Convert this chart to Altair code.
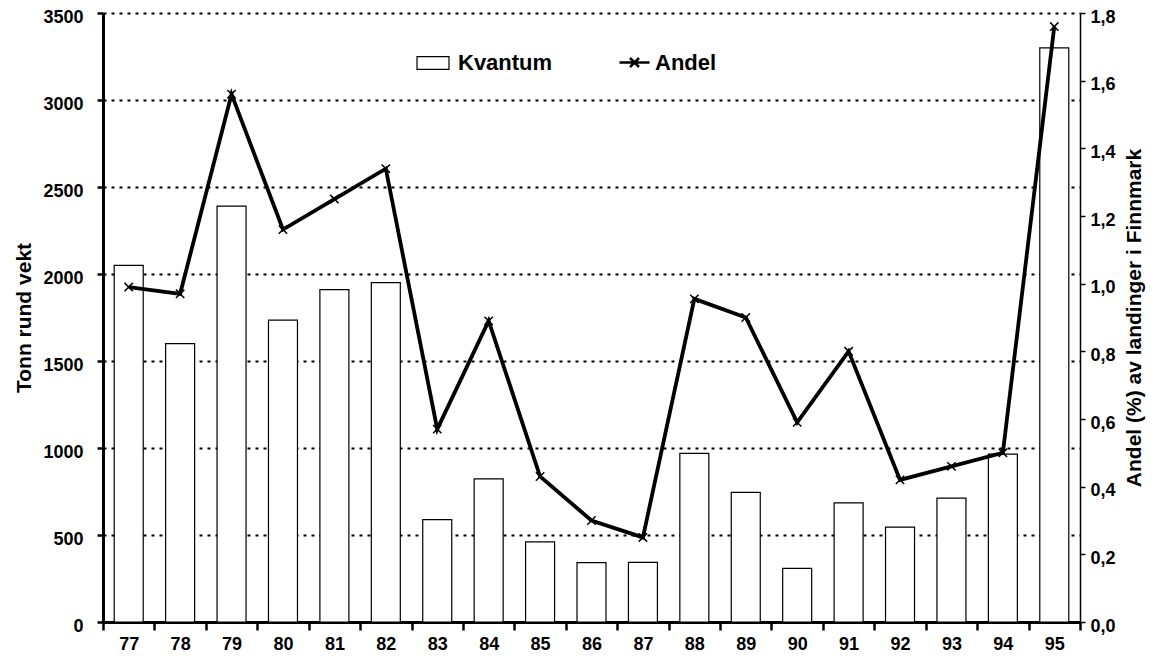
import altair as alt
import pandas as pd

years = ["77", "78", "79", "80", "81", "82", "83", "84", "85", "86",
         "87", "88", "89", "90", "91", "92", "93", "94", "95"]
kvantum = [2050, 1600, 2390, 1735, 1910, 1950, 588, 822, 461, 341,
           343, 969, 745, 308, 685, 545, 712, 965, 3300]
andel = [0.99, 0.97, 1.56, 1.16, 1.25, 1.34, 0.57, 0.89, 0.43, 0.30,
         0.25, 0.955, 0.90, 0.59, 0.80, 0.42, 0.46, 0.50, 1.76]
left_ticks = [0, 500, 1000, 1500, 2000, 2500, 3000, 3500]
right_ticks = [0, 0.2, 0.4, 0.6, 0.8, 1.0, 1.2, 1.4, 1.6, 1.8]

df = pd.DataFrame({"year": years, "kvantum": kvantum, "andel": andel,
                   "k": ["Kvantum"] * len(years), "a": ["Andel"] * len(years)})

FONT = "Liberation Sans"
TICK_FS = 18
TITLE_FS = 21
LEG_FS = 22

x_enc = alt.X(
    "year:N", sort=years, title=None,
    scale=alt.Scale(paddingInner=0, paddingOuter=0),
    axis=alt.Axis(labelAngle=0, tickBand="extent", domainWidth=3, domainColor="black",
                  tickColor="black", tickWidth=2.5, tickSize=8, labelPadding=5,
                  labelFontSize=TICK_FS, labelFontWeight="bold", labelFont=FONT,
                  labelColor="black"),
)

bars = alt.Chart(df).mark_bar(size=29, stroke="black", strokeWidth=1.2).encode(
    x=x_enc,
    y=alt.Y("kvantum:Q", scale=alt.Scale(domain=[0, 3500], nice=False),
            axis=alt.Axis(values=left_ticks, format="d", grid=True, gridDash=[3, 5],
                          gridColor="black", gridWidth=2, gridOpacity=1, domainWidth=3,
                          domainColor="black", tickColor="black", tickWidth=2.5, tickSize=6,
                          labelPadding=14, labelOffset=4, labelFontSize=TICK_FS,
                          labelFontWeight="bold", labelFont=FONT, labelColor="black",
                          title="Tonn rund vekt", titleFont=FONT, titleFontSize=TITLE_FS,
                          titleFontWeight="bold", titleColor="black", titlePadding=8)),
    fill=alt.Fill("k:N", scale=alt.Scale(domain=["Kvantum"], range=["white"]),
                  legend=alt.Legend(title=None, orient="none", legendX=313, legendY=33,
                                    symbolType="M-1,-0.4H1V0.4H-1Z", symbolSize=1024,
                                    symbolStrokeColor="black", symbolStrokeWidth=1.2,
                                    labelFont=FONT, labelFontSize=LEG_FS, labelFontWeight="bold",
                                    labelColor="black", labelOffset=8)),
)

y_right = alt.Y("andel:Q", scale=alt.Scale(domain=[0, 1.8], nice=False),
                axis=alt.Axis(orient="right", values=right_ticks,
                              labelExpr="replace(format(datum.value, '.1f'), '.', ',')",
                              grid=False, domainWidth=1.5, domainColor="black",
                              tickColor="black", tickWidth=1.5, tickSize=5, labelPadding=5,
                              labelOffset=4, labelFontSize=TICK_FS, labelFontWeight="bold",
                              labelFont=FONT, labelColor="black",
                              title="Andel (%) av landinger i Finnmark",
                              titleFont=FONT, titleFontSize=TITLE_FS, titleFontWeight="bold",
                              titleColor="black", titleAngle=270, titleBaseline="top",
                              titlePadding=8))

line = alt.Chart(df).mark_line(strokeWidth=3.8).encode(
    x=x_enc,
    y=y_right,
    stroke=alt.Stroke("a:N", scale=alt.Scale(domain=["Andel"], range=["black"]),
                      legend=alt.Legend(title=None, orient="none", legendX=515, legendY=33,
                                        symbolType="M-1,0H1M-0.3,-0.3L0.3,0.3M-0.3,0.3L0.3,-0.3",
                                        symbolSize=900, symbolStrokeWidth=2.5,
                                        labelFont=FONT, labelFontSize=LEG_FS,
                                        labelFontWeight="bold", labelColor="black",
                                        labelOffset=4)),
)

points = alt.Chart(df).mark_point(shape="M-1,-1L1,1M-1,1L1,-1", size=70, stroke="black",
                                  strokeWidth=1.5, filled=False, opacity=1).encode(
    x=x_enc,
    y=y_right,
)

right = alt.layer(line, points)

chart = alt.layer(bars, right).resolve_scale(y="independent").properties(
    width=977, height=609,
    autosize=alt.AutoSizeParams(type="none"),
    padding={"left": 95, "top": 5, "right": 73, "bottom": 40},
).configure_view(stroke=None)

chart.save("out.html", embed_options={"renderer": "svg", "actions": False})
